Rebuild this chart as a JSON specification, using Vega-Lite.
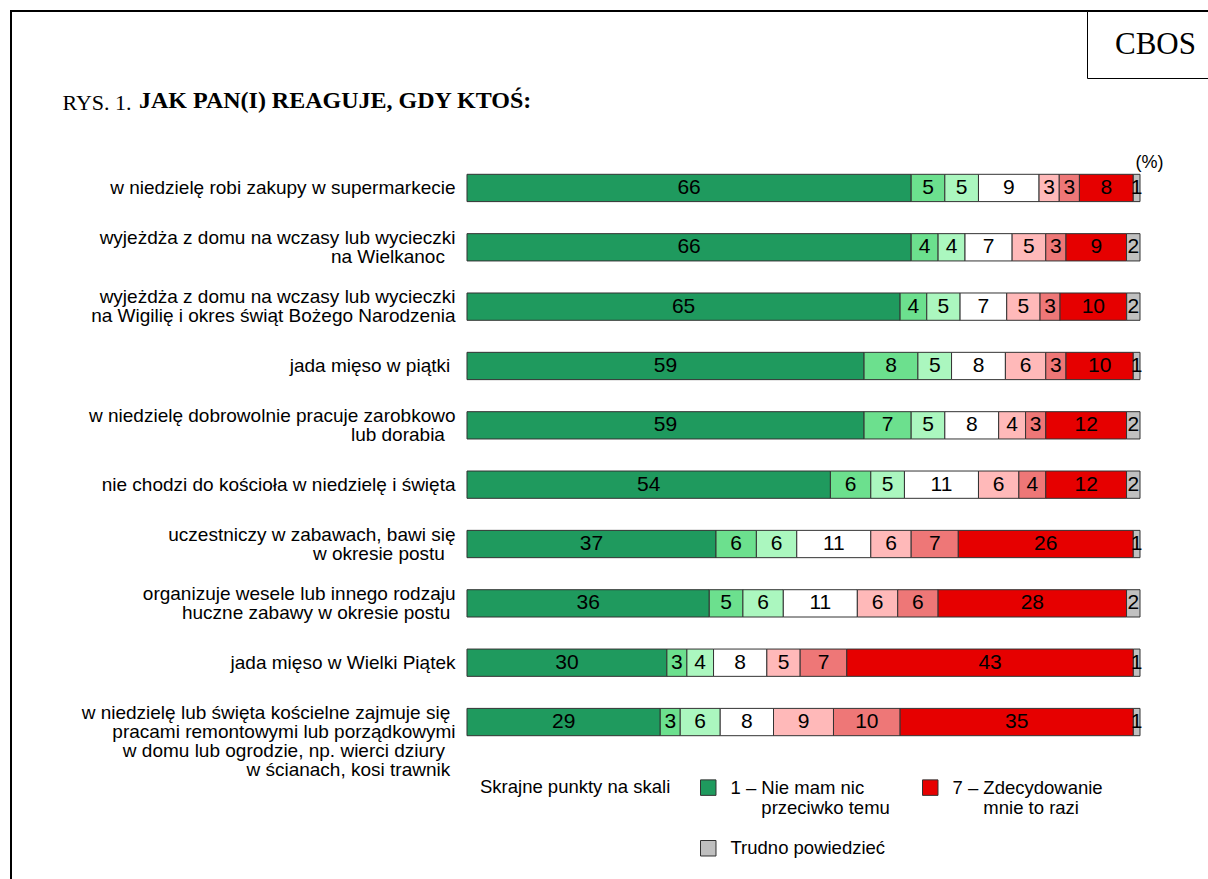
{
  "$schema": "https://vega.github.io/schema/vega-lite/v6.json",
  "width": 1197,
  "height": 868,
  "autosize": "none",
  "padding": {"left": 11, "top": 11, "right": 0, "bottom": 0},
  "background": "white",
  "config": {
    "font": "Liberation Sans",
    "view": {"stroke": "black", "strokeWidth": 2, "strokeDash": [1197, 2065, 880, 1]}
  },
  "title": {
    "text": "JAK PAN(I) REAGUJE, GDY KTOŚ:",
    "anchor": "start",
    "frame": "group",
    "orient": "top",
    "offset": 0,
    "dx": 128,
    "dy": 114,
    "font": "Liberation Serif",
    "fontSize": 24,
    "fontWeight": "bold",
    "color": "black",
    "baseline": "middle"
  },
  "data": {
    "values": [
      {"q": "w niedzielę robi zakupy w supermarkecie", "1": 66, "2": 5, "3": 5, "4": 9, "5": 3, "6": 3, "7": 8, "T": 1},
      {"q": "wyjeżdża z domu na wczasy lub wycieczki|na Wielkanoc\u00a0\u00a0\u200b", "1": 66, "2": 4, "3": 4, "4": 7, "5": 5, "6": 3, "7": 9, "T": 2},
      {"q": "wyjeżdża z domu na wczasy lub wycieczki|na Wigilię i okres świąt Bożego Narodzenia", "1": 65, "2": 4, "3": 5, "4": 7, "5": 5, "6": 3, "7": 10, "T": 2},
      {"q": "jada mięso w piątki\u00a0\u200b", "1": 59, "2": 8, "3": 5, "4": 8, "5": 6, "6": 3, "7": 10, "T": 1},
      {"q": "w niedzielę dobrowolnie pracuje zarobkowo|lub dorabia\u00a0\u00a0\u200b", "1": 59, "2": 7, "3": 5, "4": 8, "5": 4, "6": 3, "7": 12, "T": 2},
      {"q": "nie chodzi do kościoła w niedzielę i święta", "1": 54, "2": 6, "3": 5, "4": 11, "5": 6, "6": 4, "7": 12, "T": 2},
      {"q": "uczestniczy w zabawach, bawi się|w okresie postu\u00a0\u00a0\u200b", "1": 37, "2": 6, "3": 6, "4": 11, "5": 6, "6": 7, "7": 26, "T": 1},
      {"q": "organizuje wesele lub innego rodzaju|huczne zabawy w okresie postu\u00a0\u200b", "1": 36, "2": 5, "3": 6, "4": 11, "5": 6, "6": 6, "7": 28, "T": 2},
      {"q": "jada mięso w Wielki Piątek", "1": 30, "2": 3, "3": 4, "4": 8, "5": 5, "6": 7, "7": 43, "T": 1},
      {"q": "w niedzielę lub święta kościelne zajmuje się\u00a0\u200b|pracami remontowymi lub porządkowymi|w domu lub ogrodzie, np. wierci dziury\u00a0\u00a0\u200b|w ścianach, kosi trawnik\u00a0\u200b", "1": 29, "2": 3, "3": 6, "4": 8, "5": 9, "6": 10, "7": 35, "T": 1}
    ]
  },
  "transform": [{"fold": ["1", "2", "3", "4", "5", "6", "7", "T"], "as": ["k", "v"]}],
  "layer": [
    {
      "mark": {"type": "bar", "stroke": "#333333", "strokeWidth": 1},
      "encoding": {
        "y": {
          "field": "q",
          "type": "nominal",
          "sort": null,
          "scale": {"range": [163.3, 724.7], "paddingInner": 0.54, "paddingOuter": 0},
          "axis": {
            "orient": "left",
            "offset": -456,
            "domain": false,
            "ticks": false,
            "grid": false,
            "labelFont": "Liberation Sans",
            "labelFontSize": 19,
            "labelColor": "black",
            "labelPadding": 12,
            "labelLimit": 600,
            "labelLineHeight": 9.5,
            "labelOffset": -9.5,
            "labelExpr": "indexof(datum.label, '|') < 0 ? ['\u200b', datum.label] : split(join(split(datum.label, '|'), '|\u200b|'), '|')",
            "title": "RYS. 1.",
            "titleAngle": 0,
            "titleX": -405,
            "titleY": 91,
            "titleAlign": "left",
            "titleBaseline": "middle",
            "titleFont": "Liberation Serif",
            "titleFontSize": 22,
            "titleFontWeight": "normal",
            "titleColor": "black"
          }
        },
        "x": {
          "field": "v",
          "type": "quantitative",
          "stack": "normalize",
          "scale": {"domain": [-0.677563, 1.10104], "nice": false, "zero": false},
          "axis": {
            "orient": "top",
            "title": "(%)",
            "labels": false,
            "ticks": false,
            "domain": false,
            "grid": false,
            "titleX": 1138,
            "titleY": 151,
            "titleAlign": "center",
            "titleBaseline": "middle",
            "titleFont": "Liberation Sans",
            "titleFontSize": 18,
            "titleFontWeight": "normal",
            "titleColor": "black"
          }
        },
        "color": {
          "field": "k",
          "type": "nominal",
          "scale": {
            "domain": ["1", "2", "3", "4", "5", "6", "7", "T"],
            "range": ["#1f9a5e", "#6ce08e", "#abf7bf", "#ffffff", "#ffb9b9", "#ee7777", "#e60000", "#c0c0c0"]
          },
          "legend": {
            "title": "Skrajne punkty na skali",
            "orient": "none",
            "direction": "horizontal",
            "legendX": 469,
            "legendY": 767,
            "titleOrient": "left",
            "titleAnchor": "start",
            "titleBaseline": "top",
            "titleFont": "Liberation Sans",
            "titleFontSize": 18.5,
            "titleFontWeight": "normal",
            "titleColor": "black",
            "titlePadding": 28,
            "titleLimit": 400,
            "values": ["1", "7", "T"],
            "columns": 2,
            "columnPadding": 30,
            "rowPadding": 20,
            "symbolType": "square",
            "symbolSize": 240,
            "symbolStrokeWidth": 1,
            "labelFont": "Liberation Sans",
            "labelFontSize": 18.5,
            "labelColor": "black",
            "labelLineHeight": 21,
            "labelOffset": 13,
            "labelLimit": 400,
            "labelExpr": "datum.value == '1' ? ['1 – Nie mam nic', '\u200b\u00a0\u00a0\u00a0\u00a0\u00a0\u00a0przeciwko temu'] : datum.value == '7' ? ['7 – Zdecydowanie', '\u200b\u00a0\u00a0\u00a0\u00a0\u00a0\u00a0mnie to razi'] : 'Trudno powiedzieć'"
          }
        },
        "order": {"field": "k", "type": "ordinal"}
      }
    },
    {
      "mark": {"type": "text", "font": "Liberation Sans", "fontSize": 21, "color": "black", "baseline": "middle"},
      "encoding": {
        "y": {"field": "q", "type": "nominal", "sort": null},
        "x": {"field": "v", "type": "quantitative", "stack": "normalize", "bandPosition": 0.5},
        "detail": {"field": "k", "type": "nominal"},
        "order": {"field": "k", "type": "ordinal"},
        "text": {"field": "v", "type": "quantitative"}
      }
    },
    {
      "data": {"values": [{"org": "CBOS"}]},
      "mark": {"type": "point", "filled": true, "color": "black"},
      "encoding": {
        "x": {"datum": 3},
        "shape": {
          "field": "org",
          "type": "nominal",
          "legend": {
            "title": null,
            "orient": "none",
            "legendX": 1076,
            "legendY": 0,
            "padding": 18,
            "strokeColor": "black",
            "fillColor": "white",
            "symbolType": "square",
            "symbolSize": 900,
            "symbolOpacity": 0,
            "labelOffset": -22,
            "labelAlign": "left",
            "labelFont": "Liberation Serif",
            "labelFontSize": 31,
            "labelColor": "black",
            "labelLimit": 300
          }
        }
      }
    }
  ]
}
